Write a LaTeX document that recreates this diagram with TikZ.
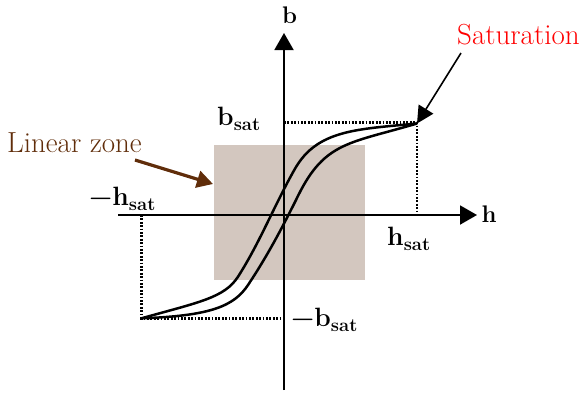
\documentclass[tikz,border=0pt]{standalone}
\usepackage{fontspec}
\usetikzlibrary{arrows.meta}
\definecolor{zonefill}{RGB}{211,199,191}
\definecolor{zonebrown}{RGB}{96,45,10}
\newcommand{\satlab}[1]{\textbf{#1}\raisebox{-0.22em}{\fontsize{18.5}{20}\selectfont\textbf{sat}}}
\begin{document}
\begin{tikzpicture}[x=1pt,y=-1pt,
  lbl/.style={inner sep=0pt,font=\fontsize{26.5}{30}\selectfont},
  ttl/.style={inner sep=0pt,font=\fontsize{29}{32}\selectfont},
  axislbl/.style={inner sep=0pt,font=\fontsize{24}{28}\selectfont\bfseries},
  axisline/.style={line width=1.9pt,-{Triangle[length=17pt,width=19pt]}},
  dotline/.style={line width=2.6pt,dash pattern=on 1.8pt off 1.6pt},
  loopcurve/.style={line width=2.5pt,line join=round},
  satarrow/.style={line width=1.6pt,-{Triangle[length=17pt,width=17pt]}},
  zonearrow/.style={line width=3.2pt,zonebrown,-{Triangle[length=16pt,width=17pt]}}]
\useasboundingbox (0,0) rectangle (580,392);
% linear zone box
\fill[zonefill] (214,145) rectangle (365,280);
% key points
\coordinate (O) at (284,215);
\coordinate (psat) at (417,123.5);
\coordinate (nsat) at (141.5,318.3);
\coordinate (hleft) at (118,215);
\coordinate (hright) at (477,215);
\coordinate (bbottom) at (284,390);
\coordinate (btop) at (284,33);
\coordinate (pbax) at (284,122.5);
\coordinate (pdot) at (417,122.5);
\coordinate (phax) at (417,215);
\coordinate (nhax) at (141.5,215);
\coordinate (nbax) at (284,318.3);
% dotted guides
\draw[dotline] (pbax) -- (pdot) -- (phax);
\draw[dotline] (nhax) -- (nsat) -- (nbax);
% axes
\draw[axisline] (hleft) -- (hright);
\draw[axisline] (bbottom) -- (btop);
% hysteresis loop
\draw[loopcurve] (nsat) .. controls (199.3,302.1) and (224.5,297.7) .. (238,276.7)
  .. controls (259.6,243.1) and (275.2,203.4) .. (295,168.7)
  .. controls (317.3,129.6) and (357.3,129.3) .. (psat);
\draw[loopcurve] (nsat) .. controls (211.4,315.9) and (234.2,305.8) .. (248,285)
  .. controls (267.4,255.9) and (282.8,226.7) .. (298.3,195.3)
  .. controls (324.9,141.5) and (349.9,143.4) .. (psat);
% labels
\node[axislbl,anchor=base] (blab) at (289.5,23) {b};
\node[axislbl,anchor=base] (hlab) at (489,222) {h};
\node[lbl,anchor=base west] (bsat) at (217,125) {\satlab{b}};
\node[lbl,anchor=base west] (hsat) at (387,245) {\satlab{h}};
\node[lbl,anchor=base west] (nbsat) at (291,326) {\textbf{−}\satlab{b}};
\node[lbl,anchor=base west] (nhsat) at (89,205) {\textbf{−}\satlab{h}};
\node[ttl,anchor=base west,text=red] (satt) at (457,44) {Saturation};
\node[ttl,anchor=base west,text=zonebrown] (lint) at (7,152) {Linear zone};
% pointer arrows
\coordinate (satstart) at (461,53);
\coordinate (linstart) at (135,160);
\coordinate (lintip) at (213,184);
\draw[satarrow] (satstart) -- (psat);
\draw[zonearrow] (linstart) -- (lintip);
\end{tikzpicture}
\end{document}
